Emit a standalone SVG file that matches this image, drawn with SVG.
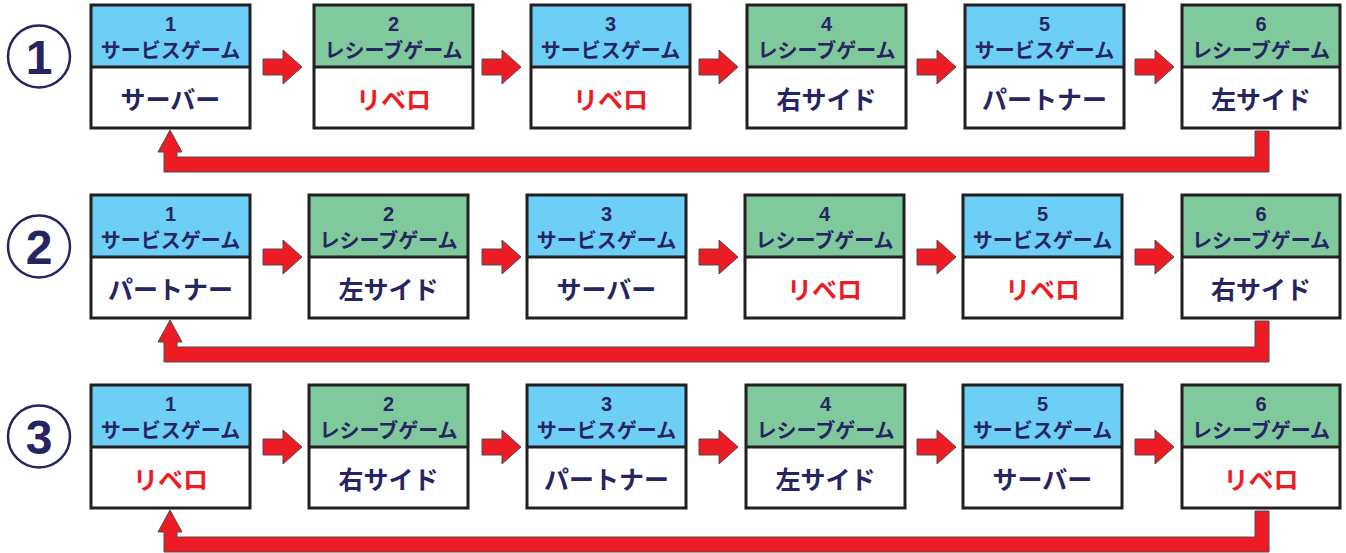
<svg xmlns="http://www.w3.org/2000/svg" width="1346" height="553" viewBox="0 0 1346 553">
<style>
.hs{fill:#6dcff6}
.hr{fill:#80c99c}
.lo{fill:#ffffff}
.bd{fill:none;stroke:#231f20;stroke-width:3}
.dv{stroke:#231f20;stroke-width:3}
text{font-family:"Noto Sans CJK JP","Noto Sans",sans-serif;font-weight:bold;text-anchor:middle}
.n{font-family:"Liberation Sans",Arial,sans-serif;font-size:20px;fill:#262561}
.g{font-size:20px;fill:#262561}
.p{font-size:25px;fill:#262561}
.r{font-size:25px;fill:#ed1c24}
.cc{fill:#fff;stroke:#262561;stroke-width:2.5}
.cn{font-family:"Liberation Sans",Arial,sans-serif;font-size:48px;fill:#262561}
.ar{fill:#ed1c24;stroke:#4d4d4d;stroke-width:1}
</style>
<defs>
<polygon id="ra" points="0,-8 20,-8 20,-17 39,0 20,17 20,8 0,8"/>
</defs>

<!-- Row markers -->
<g id="row1-label"><circle class="cc" cx="39" cy="56.5" r="31"/><text class="cn" x="39" y="74">1</text></g>
<g id="row2-label"><circle class="cc" cx="39" cy="246.5" r="31"/><text class="cn" x="39" y="264">2</text></g>
<g id="row3-label"><circle class="cc" cx="39" cy="436.5" r="31"/><text class="cn" x="39" y="454">3</text></g>

<!-- Row 1 nodes (T=5, D=67, B=128) -->
<g id="r1n1"><rect class="hs" x="91" y="5" width="159" height="62"/><rect class="lo" x="91" y="67" width="159" height="61"/><rect class="bd" x="91" y="5" width="159" height="123"/><line class="dv" x1="91" y1="67" x2="250" y2="67"/><text class="n" x="170.5" y="31">1</text><text class="g" x="170.5" y="57.5">サービスゲーム</text><text class="p" x="170.5" y="109">サーバー</text></g>
<g id="r1n2"><rect class="hr" x="314" y="5" width="159" height="62"/><rect class="lo" x="314" y="67" width="159" height="61"/><rect class="bd" x="314" y="5" width="159" height="123"/><line class="dv" x1="314" y1="67" x2="473" y2="67"/><text class="n" x="393.5" y="31">2</text><text class="g" x="393.5" y="57.5">レシーブゲーム</text><text class="r" x="393.5" y="109">リベロ</text></g>
<g id="r1n3"><rect class="hs" x="531" y="5" width="159" height="62"/><rect class="lo" x="531" y="67" width="159" height="61"/><rect class="bd" x="531" y="5" width="159" height="123"/><line class="dv" x1="531" y1="67" x2="690" y2="67"/><text class="n" x="610.5" y="31">3</text><text class="g" x="610.5" y="57.5">サービスゲーム</text><text class="r" x="610.5" y="109">リベロ</text></g>
<g id="r1n4"><rect class="hr" x="747" y="5" width="159" height="62"/><rect class="lo" x="747" y="67" width="159" height="61"/><rect class="bd" x="747" y="5" width="159" height="123"/><line class="dv" x1="747" y1="67" x2="906" y2="67"/><text class="n" x="826.5" y="31">4</text><text class="g" x="826.5" y="57.5">レシーブゲーム</text><text class="p" x="826.5" y="109">右サイド</text></g>
<g id="r1n5"><rect class="hs" x="965" y="5" width="159" height="62"/><rect class="lo" x="965" y="67" width="159" height="61"/><rect class="bd" x="965" y="5" width="159" height="123"/><line class="dv" x1="965" y1="67" x2="1124" y2="67"/><text class="n" x="1044.5" y="31">5</text><text class="g" x="1044.5" y="57.5">サービスゲーム</text><text class="p" x="1044.5" y="109">パートナー</text></g>
<g id="r1n6"><rect class="hr" x="1182" y="5" width="158" height="62"/><rect class="lo" x="1182" y="67" width="158" height="61"/><rect class="bd" x="1182" y="5" width="158" height="123"/><line class="dv" x1="1182" y1="67" x2="1340" y2="67"/><text class="n" x="1261" y="31">6</text><text class="g" x="1261" y="57.5">レシーブゲーム</text><text class="p" x="1261" y="109">左サイド</text></g>

<!-- Row 2 nodes (T=195, D=257, B=318) -->
<g id="r2n1"><rect class="hs" x="91" y="195" width="159" height="62"/><rect class="lo" x="91" y="257" width="159" height="61"/><rect class="bd" x="91" y="195" width="159" height="123"/><line class="dv" x1="91" y1="257" x2="250" y2="257"/><text class="n" x="170.5" y="221">1</text><text class="g" x="170.5" y="247.5">サービスゲーム</text><text class="p" x="170.5" y="299">パートナー</text></g>
<g id="r2n2"><rect class="hr" x="309" y="195" width="159" height="62"/><rect class="lo" x="309" y="257" width="159" height="61"/><rect class="bd" x="309" y="195" width="159" height="123"/><line class="dv" x1="309" y1="257" x2="468" y2="257"/><text class="n" x="388.5" y="221">2</text><text class="g" x="388.5" y="247.5">レシーブゲーム</text><text class="p" x="388.5" y="299">左サイド</text></g>
<g id="r2n3"><rect class="hs" x="527" y="195" width="159" height="62"/><rect class="lo" x="527" y="257" width="159" height="61"/><rect class="bd" x="527" y="195" width="159" height="123"/><line class="dv" x1="527" y1="257" x2="686" y2="257"/><text class="n" x="606.5" y="221">3</text><text class="g" x="606.5" y="247.5">サービスゲーム</text><text class="p" x="606.5" y="299">サーバー</text></g>
<g id="r2n4"><rect class="hr" x="745" y="195" width="159" height="62"/><rect class="lo" x="745" y="257" width="159" height="61"/><rect class="bd" x="745" y="195" width="159" height="123"/><line class="dv" x1="745" y1="257" x2="904" y2="257"/><text class="n" x="824.5" y="221">4</text><text class="g" x="824.5" y="247.5">レシーブゲーム</text><text class="r" x="824.5" y="299">リベロ</text></g>
<g id="r2n5"><rect class="hs" x="963" y="195" width="159" height="62"/><rect class="lo" x="963" y="257" width="159" height="61"/><rect class="bd" x="963" y="195" width="159" height="123"/><line class="dv" x1="963" y1="257" x2="1122" y2="257"/><text class="n" x="1042.5" y="221">5</text><text class="g" x="1042.5" y="247.5">サービスゲーム</text><text class="r" x="1042.5" y="299">リベロ</text></g>
<g id="r2n6"><rect class="hr" x="1182" y="195" width="158" height="62"/><rect class="lo" x="1182" y="257" width="158" height="61"/><rect class="bd" x="1182" y="195" width="158" height="123"/><line class="dv" x1="1182" y1="257" x2="1340" y2="257"/><text class="n" x="1261" y="221">6</text><text class="g" x="1261" y="247.5">レシーブゲーム</text><text class="p" x="1261" y="299">右サイド</text></g>

<!-- Row 3 nodes (T=385, D=447, B=508) -->
<g id="r3n1"><rect class="hs" x="91" y="385" width="159" height="62"/><rect class="lo" x="91" y="447" width="159" height="61"/><rect class="bd" x="91" y="385" width="159" height="123"/><line class="dv" x1="91" y1="447" x2="250" y2="447"/><text class="n" x="170.5" y="411">1</text><text class="g" x="170.5" y="437.5">サービスゲーム</text><text class="r" x="170.5" y="489">リベロ</text></g>
<g id="r3n2"><rect class="hr" x="309" y="385" width="159" height="62"/><rect class="lo" x="309" y="447" width="159" height="61"/><rect class="bd" x="309" y="385" width="159" height="123"/><line class="dv" x1="309" y1="447" x2="468" y2="447"/><text class="n" x="388.5" y="411">2</text><text class="g" x="388.5" y="437.5">レシーブゲーム</text><text class="p" x="388.5" y="489">右サイド</text></g>
<g id="r3n3"><rect class="hs" x="527" y="385" width="159" height="62"/><rect class="lo" x="527" y="447" width="159" height="61"/><rect class="bd" x="527" y="385" width="159" height="123"/><line class="dv" x1="527" y1="447" x2="686" y2="447"/><text class="n" x="606.5" y="411">3</text><text class="g" x="606.5" y="437.5">サービスゲーム</text><text class="p" x="606.5" y="489">パートナー</text></g>
<g id="r3n4"><rect class="hr" x="746" y="385" width="159" height="62"/><rect class="lo" x="746" y="447" width="159" height="61"/><rect class="bd" x="746" y="385" width="159" height="123"/><line class="dv" x1="746" y1="447" x2="905" y2="447"/><text class="n" x="825.5" y="411">4</text><text class="g" x="825.5" y="437.5">レシーブゲーム</text><text class="p" x="825.5" y="489">左サイド</text></g>
<g id="r3n5"><rect class="hs" x="963" y="385" width="159" height="62"/><rect class="lo" x="963" y="447" width="159" height="61"/><rect class="bd" x="963" y="385" width="159" height="123"/><line class="dv" x1="963" y1="447" x2="1122" y2="447"/><text class="n" x="1042.5" y="411">5</text><text class="g" x="1042.5" y="437.5">サービスゲーム</text><text class="p" x="1042.5" y="489">サーバー</text></g>
<g id="r3n6"><rect class="hr" x="1182" y="385" width="158" height="62"/><rect class="lo" x="1182" y="447" width="158" height="61"/><rect class="bd" x="1182" y="385" width="158" height="123"/><line class="dv" x1="1182" y1="447" x2="1340" y2="447"/><text class="n" x="1261" y="411">6</text><text class="g" x="1261" y="437.5">レシーブゲーム</text><text class="r" x="1261" y="489">リベロ</text></g>

<!-- Connectors -->
<g id="connectors">
<use href="#ra" class="ar" x="263" y="67"/>
<use href="#ra" class="ar" x="482" y="67"/>
<use href="#ra" class="ar" x="699" y="67"/>
<use href="#ra" class="ar" x="917" y="67"/>
<use href="#ra" class="ar" x="1135" y="67"/>
<use href="#ra" class="ar" x="263" y="257"/>
<use href="#ra" class="ar" x="482" y="257"/>
<use href="#ra" class="ar" x="699" y="257"/>
<use href="#ra" class="ar" x="917" y="257"/>
<use href="#ra" class="ar" x="1135" y="257"/>
<use href="#ra" class="ar" x="263" y="447"/>
<use href="#ra" class="ar" x="482" y="447"/>
<use href="#ra" class="ar" x="699" y="447"/>
<use href="#ra" class="ar" x="917" y="447"/>
<use href="#ra" class="ar" x="1135" y="447"/>
<polygon class="ar" points="170,130 182,152 177,152 177,157 1255,157 1255,131 1269,131 1269,172 164,172 164,152 158,152"/>
<polygon class="ar" points="170,320 182,342 177,342 177,347 1255,347 1255,321 1269,321 1269,362 164,362 164,342 158,342"/>
<polygon class="ar" points="170,510 182,532 177,532 177,537 1255,537 1255,511 1269,511 1269,552 164,552 164,532 158,532"/>
</g>
</svg>
